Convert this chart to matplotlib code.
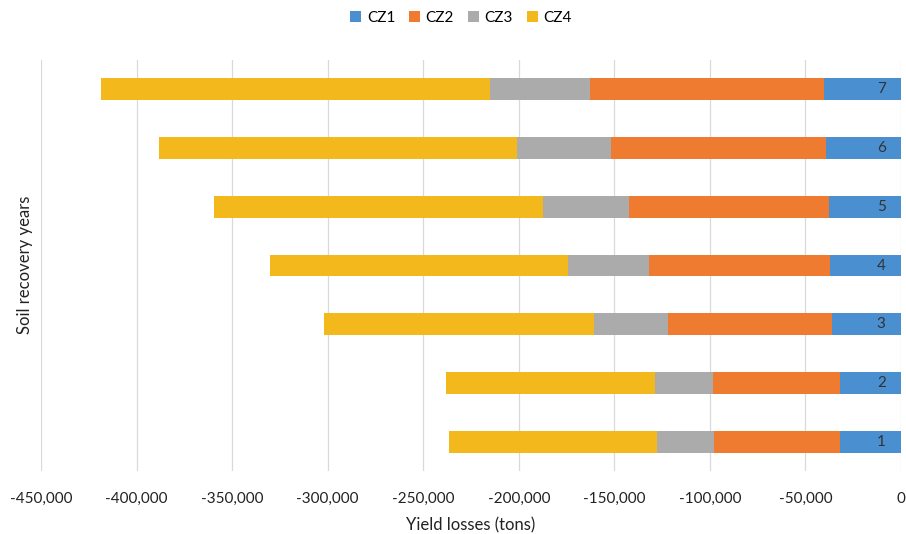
import matplotlib
matplotlib.use("Agg")
import matplotlib.pyplot as plt
from matplotlib.ticker import FuncFormatter

plt.rcParams['font.family'] = ['Lato', 'DejaVu Sans']

years = ['1', '2', '3', '4', '5', '6', '7']
cz1 = [-31900, -31900, -36100, -37200, -37700, -39300, -40300]
cz2 = [-66000, -66500, -85900, -94700, -104700, -112500, -122500]
cz3 = [-29900, -30400, -38700, -42500, -45000, -49200, -52400]
cz4 = [-108900, -109400, -141400, -156000, -172300, -187500, -203200]
series = [('CZ1', cz1), ('CZ2', cz2), ('CZ3', cz3), ('CZ4', cz4)]
colors = ['#4A8FD0', '#EE7B30', '#ABABAB', '#F2B81C']
xticks = [-450000, -400000, -350000, -300000, -250000, -200000, -150000, -100000, -50000, 0]

fig = plt.figure(figsize=(9.06, 5.34), dpi=100)
ax = fig.add_axes([41/906, 1 - 471/534, 860/906, (471 - 60)/534])

pos = list(range(len(years)))
left = [0] * len(years)
for (name, vals), c in zip(series, colors):
    ax.barh(pos, vals, left=left, height=0.37, color=c, label=name, zorder=3)
    left = [l + v for l, v in zip(left, vals)]

for p, y in zip(pos, years):
    ax.text(-8000, p, y, ha='right', va='center', fontsize=11, color='#333333', zorder=4)

ax.set_xlim(-450000, 0)
ax.set_ylim(-0.5, len(years) - 0.5)
ax.set_xticks(xticks)
ax.xaxis.set_major_formatter(FuncFormatter(lambda v, p: f"{int(v):,}"))
ax.set_yticks([])
ax.tick_params(axis='x', length=0, labelsize=11, colors='#222222', pad=15)
ax.grid(axis='x', color='#D9D9D9', linewidth=0.9, zorder=0)
for s in ax.spines.values():
    s.set_visible(False)

ax.set_xlabel('Yield losses (tons)', fontsize=12, color='#222222', labelpad=8)
fig.text(25/906, 1 - 265/534, 'Soil recovery years', rotation=90, ha='center', va='center',
         fontsize=12, color='#222222')

fig.legend(loc='center', bbox_to_anchor=(461/906, 1 - 18/534), ncol=4, frameon=False,
           fontsize=11, handlelength=0.7, handleheight=0.7, handletextpad=0.4, columnspacing=0.9)

fig.savefig('out.png', dpi=100)
